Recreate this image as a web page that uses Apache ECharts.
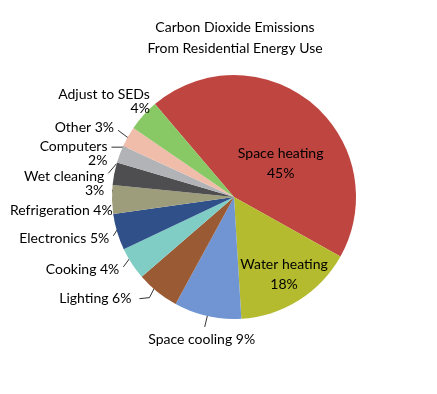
<!DOCTYPE html>
<html><head><meta charset="utf-8">
<script src="https://cdn.jsdelivr.net/npm/echarts@6/dist/echarts.min.js"></script>
<style>html,body{margin:0;padding:0;background:#fff}#c{width:437px;height:394px}</style>
</head><body><div id="c"></div>
<script>
const titleLines = ['Carbon Dioxide Emissions', 'From Residential Energy Use'];
const categories = ['Space heating','Water heating','Space cooling','Lighting','Cooking','Electronics','Refrigeration','Wet cleaning','Computers','Other','Adjust to SEDs'];
const values = [44.3, 15.9, 8.9, 5.7, 4.3, 4.8, 3.8, 3.0, 2.3, 2.7, 4.2];
const pctLabels = ['45%','18%','9%','6%','4%','5%','4%','3%','2%','3%','4%'];
const labelBreak = [true, true, false, false, false, false, false, true, true, false, true];
const colors = ['#BF4540','#B4BB2E','#7095D2','#9A5A33','#80CDC6','#30508A','#9D9C7B','#4E4E50','#B2B3B7','#F1BDAB','#88C865'];
// label nudges (style only)
const labelShift = [[6,16],[16,23],[58,18],[-17,2],[-3,3],[2,5],[10,0],[2,-4],[0,-4],[-2,-7],[20,-10]];
const elbow = [false,false,false,true,false,false,false,false,false,false,false];

const chart = echarts.init(document.getElementById('c'));
const data = categories.map((n, i) => {
  const d = { name: n, value: values[i], itemStyle: { color: colors[i] } };
  if (i < 2) {
    d.label = { position: 'inside', align: 'center', lineHeight: 20 };
  }
  return d;
});
chart.setOption({
  animation: false,
  backgroundColor: '#fff',
  title: {
    text: titleLines.join('\n'),
    left: 230, top: 12, textAlign: 'center',
    textStyle: { fontFamily: 'Lato', fontSize: 14, fontWeight: 'normal', color: '#000', lineHeight: 21 }
  },
  series: [{
    type: 'pie',
    center: [234, 197],
    radius: 122,
    startAngle: 130.4,
    clockwise: true,
    data: data,
    label: {
      fontFamily: 'Lato', fontSize: 14, color: '#000', lineHeight: 14,
      overflow: 'none',
      formatter: p => categories[p.dataIndex] + (labelBreak[p.dataIndex] ? '\n' : ' ') + pctLabels[p.dataIndex],
      textAlign: 'right'
    },
    labelLine: { show: true, length: 6, length2: 4, lineStyle: { color: '#333', width: 1 } },
    labelLayout: function (p) {
      const i = p.dataIndex;
      const s = labelShift[i];
      const out = { dx: s[0], dy: s[1] };
      const pts = p.labelLinePoints;
      if (i < 2 || !pts) return out;
      const p0 = pts[0], p1 = pts[1];
      let vx = p1[0] - p0[0], vy = p1[1] - p0[1];
      const len = Math.sqrt(vx * vx + vy * vy) || 1;
      vx /= len; vy /= len;
      const end = [p0[0] - vx * 10, p0[1] - vy * 10];
      const r = p.labelRect;
      const rx = r.x + s[0], ry = r.y + s[1];
      let start;
      if (ry > p0[1] + 8 && rx + 10 < p0[0] && rx + r.width - 10 > p0[0]) {
        start = [rx + r.width / 2 + 3, ry - 6];
      } else if (elbow[i]) {
        start = [rx + r.width + 8, ry + r.height / 2];
      } else {
        const y = Math.min(Math.max(end[1], ry + 4), ry + r.height - 4);
        start = [rx + r.width + 4, y];
      }
      if (elbow[i]) {
        out.labelLinePoints = [start, [start[0] + 10, start[1] - 1], end];
      } else {
        out.labelLinePoints = [start, end];
      }
      return out;
    }
  }]
});
</script></body></html>
